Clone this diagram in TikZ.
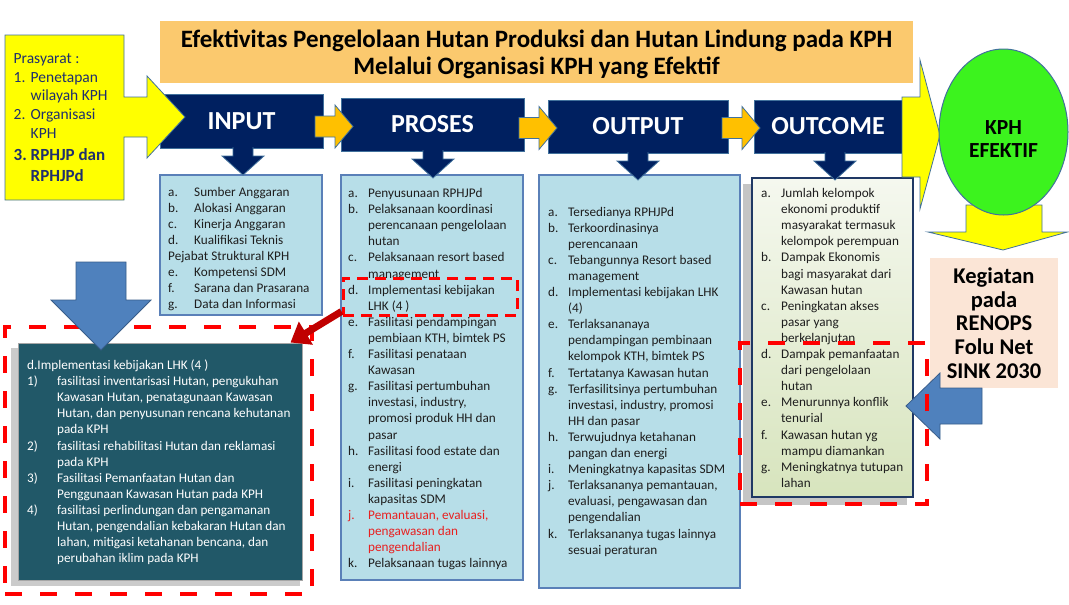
\documentclass[tikz,border=0pt]{standalone}
\usepackage{fontspec}
\setmainfont{Carlito}
\usetikzlibrary{arrows.meta,shapes.geometric}

\definecolor{navy}{HTML}{002060}
\definecolor{hdrline}{HTML}{41719C}
\definecolor{titlefill}{HTML}{FBC96E}
\definecolor{lstfill}{HTML}{B7DEE8}
\definecolor{lstline}{HTML}{5A80B8}
\definecolor{orng}{HTML}{FFC000}
\definecolor{yel}{HTML}{FFFF00}
\definecolor{effgreen}{HTML}{3CF31E}
\definecolor{peach}{HTML}{FBE5D6}
\definecolor{lhkfill}{HTML}{215868}
\definecolor{bluearr}{HTML}{4F81BD}
\definecolor{blueline}{HTML}{385D8A}
\definecolor{darkred}{HTML}{C00000}
\definecolor{octop}{HTML}{F5F8EF}
\definecolor{ocbot}{HTML}{D7E4BD}
\definecolor{ocline}{HTML}{1F3864}
\definecolor{pretext}{HTML}{1F2F6E}
\definecolor{txtdark}{HTML}{1E1E1E}
\definecolor{jred}{HTML}{E82020}

\begin{document}
\begin{tikzpicture}[x=1pt, y=-1pt,
  hdr/.style={draw=hdrline, line width=0.8pt, fill=navy, text=white,
    font=\fontsize{26}{30}\selectfont\bfseries, inner sep=0pt},
  lstbox/.style={draw=lstline, line width=1.5pt, fill=lstfill, inner sep=0pt},
  lsttxt/.style={anchor=base west, inner sep=0pt, text=txtdark,
    font=\fontsize{13.2}{16.1}\selectfont},
  blockarr/.style={draw=hdrline, line width=0.8pt, line join=miter},
  bluearrow/.style={draw=blueline, fill=bluearr, line width=0.8pt},
  reddash/.style={draw=red, line width=4pt, dash pattern=on 17pt off 18pt,
    inner sep=0pt},
  bigtxt/.style={font=\fontsize{22.5}{23.8}\selectfont\bfseries, align=center}]

% background
\fill[white] (0,0) rectangle (1069,605);
\useasboundingbox (0,0) rectangle (1069,605);

% title
\node[fill=titlefill, minimum width=753pt, minimum height=62pt, inner sep=0pt]
  (title) at (536.5,52) {};
\node[font=\fontsize{25}{27}\selectfont\bfseries, align=center] (titleTxt)
  at ([yshift=-2pt]title.center)
  {Efektivitas Pengelolaan Hutan Produksi dan Hutan Lindung pada KPH\\
   Melalui Organisasi KPH yang Efektif};

% list boxes
\node[lstbox, minimum width=162pt, minimum height=140pt] (lstIn) at (241,245) {};
\node[lstbox, minimum width=182pt, minimum height=405pt] (lstPr) at (432,377.5) {};
\node[lstbox, minimum width=201pt, minimum height=413pt] (lstOut) at (639.5,381.5) {};
\fill[black!45, opacity=0.5] (743,184) rectangle (907,505);
\node[draw=ocline, line width=2pt, top color=octop, bottom color=ocbot,
  minimum width=161pt, minimum height=319pt, inner sep=0pt] (lstOc) at (832.5,337.5) {};

% headers
\node[hdr, minimum width=163pt, minimum height=54pt] (hdrIn) at (241.5,121) {INPUT};
\node[hdr, minimum width=183pt, minimum height=53pt] (hdrPr) at (432.5,124.5) {PROSES};
\node[hdr, minimum width=180pt, minimum height=53pt] (hdrOut) at (638,126.5) {OUTPUT};
\node[hdr, minimum width=148pt, minimum height=53pt] (hdrOc) at (828,126.5) {OUTCOME};

% down arrows under headers
\foreach \x/\t in {243/148, 433/151, 638/153, 835/153}
  \filldraw[blockarr, fill=navy] (\x-10,\t-1) -- (\x-10,\t+8) -- (\x-21,\t+8)
    -- (\x,\t+27) -- (\x+21,\t+8) -- (\x+10,\t+8) -- (\x+10,\t-1);

% orange arrows between headers
\foreach \x/\y in {315/126.5, 519/128, 722/128}
  \filldraw[blockarr, fill=orng] (\x,\y-10.5) -- (\x+20,\y-10.5) -- (\x+20,\y-21.5)
    -- (\x+38,\y) -- (\x+20,\y+21.5) -- (\x+20,\y+10.5) -- (\x,\y+10.5) -- cycle;

% prasyarat
\filldraw[blockarr, fill=yel] (5,35) -- (124,35) -- (124,97) -- (147,97) -- (147,76)
  -- (185,117) -- (147,158) -- (147,137) -- (124,137) -- (124,200) -- (5,200) -- cycle;
\node[anchor=base west, inner sep=0pt, text=pretext, font=\fontsize{15.5}{19}\selectfont]
  (preTxt) at (13.5,63)
  {\begin{tabular}[t]{@{}p{17pt}@{}l@{}}
   \multicolumn{2}{@{}l@{}}{Prasyarat :}\\
   1. & Penetapan\\
      & wilayah KPH\\
   2. & Organisasi\\
      & KPH\\[2pt]
   \fontsize{17}{19}\selectfont\bfseries 3. & \fontsize{17}{19}\selectfont\bfseries RPHJP dan\\[3pt]
      & \fontsize{17}{19}\selectfont\bfseries RPHJPd
   \end{tabular}};

% KPH efektif
\filldraw[blockarr, fill=yel] (902,97) -- (920,97) -- (920,60) -- (940,135) -- (920,209)
  -- (920,177) -- (902,177) -- cycle;
\filldraw[blockarr, fill=yel] (966,205) -- (1042,205) -- (1042,232) -- (1067.5,232)
  -- (1003,250) -- (928,232) -- (966,232) -- cycle;
\node[ellipse, draw=hdrline, line width=1pt, fill=effgreen, minimum width=129pt,
  minimum height=166pt, inner sep=0pt] (eff) at (1003.5,132) {};
\node[font=\fontsize{21.5}{23}\selectfont\bfseries, align=center] (effLbl)
  at ([yshift=-7pt]eff.center) {KPH\\EFEKTIF};
\node[fill=peach, minimum width=128pt, minimum height=130pt, inner sep=0pt, bigtxt]
  (renops) at (994,323) {Kegiatan\\pada\\RENOPS\\Folu Net\\SINK 2030};
\filldraw[bluearrow] (906,406) -- (940,373) -- (940,388) -- (982,388) -- (982,424)
  -- (940,424) -- (940,439) -- cycle;

% list texts
\node[lsttxt] (txtIn) at (168,196)
  {\begin{tabular}[t]{@{}p{26pt}@{}l@{}}
   a. & Sumber Anggaran\\
   b. & Alokasi Anggaran\\
   c. & Kinerja Anggaran\\
   d. & Kualifikasi Teknis\\
   \multicolumn{2}{@{}l@{}}{Pejabat Struktural KPH}\\
   e. & Kompetensi SDM\\
   f. & Sarana dan Prasarana\\
   g. & Data dan Informasi
   \end{tabular}};
\node[lsttxt] (txtPr) at (348,197.5)
  {\begin{tabular}[t]{@{}p{20pt}@{}l@{}}
   a. & Penyusunaan RPHJPd\\
   b. & Pelaksanaan koordinasi\\
      & perencanaan pengelolaan\\
      & hutan\\
   c. & Pelaksanaan resort based\\
      & management\\
   d. & Implementasi kebijakan\\
      & LHK (4 )\\
   e. & Fasilitasi pendampingan\\
      & pembiaan KTH, bimtek PS\\
   f. & Fasilitasi penataan\\
      & Kawasan\\
   g. & Fasilitasi pertumbuhan\\
      & investasi, industry,\\
      & promosi produk HH dan\\
      & pasar\\
   h. & Fasilitasi food estate dan\\
      & energi\\
   i. & Fasilitasi peningkatan\\
      & kapasitas SDM\\
   \textcolor{jred}{j.} & \textcolor{jred}{Pemantauan, evaluasi,}\\
      & \textcolor{jred}{pengawasan dan}\\
      & \textcolor{jred}{pengendalian}\\
   k. & Pelaksanaan tugas lainnya
   \end{tabular}};
\node[lsttxt] (txtOut) at (548,216)
  {\begin{tabular}[t]{@{}p{20pt}@{}l@{}}
   a. & Tersedianya RPHJPd\\
   b. & Terkoordinasinya\\
      & perencanaan\\
   c. & Tebangunnya Resort based\\
      & management\\
   d. & Implementasi kebijakan LHK\\
      & (4)\\
   e. & Terlaksananaya\\
      & pendampingan pembinaan\\
      & kelompok KTH, bimtek PS\\
   f. & Tertatanya Kawasan hutan\\
   g. & Terfasilitsinya pertumbuhan\\
      & investasi, industry, promosi\\
      & HH dan pasar\\
   h. & Terwujudnya ketahanan\\
      & pangan dan energi\\
   i. & Meningkatnya kapasitas SDM\\
   j. & Terlaksananya pemantauan,\\
      & evaluasi, pengawasan dan\\
      & pengendalian\\
   k. & Terlaksananya tugas lainnya\\
      & sesuai peraturan
   \end{tabular}};
\node[lsttxt] (txtOc) at (761,197.5)
  {\begin{tabular}[t]{@{}p{20pt}@{}l@{}}
   a. & Jumlah kelompok\\
      & ekonomi produktif\\
      & masyarakat termasuk\\
      & kelompok perempuan\\
   b. & Dampak Ekonomis\\
      & bagi masyarakat dari\\
      & Kawasan hutan\\
   c. & Peningkatan akses\\
      & pasar yang\\
      & berkelanjutan\\
   d. & Dampak pemanfaatan\\
      & dari pengelolaan\\
      & hutan\\
   e. & Menurunnya konflik\\
      & tenurial\\
   f. & Kawasan hutan yg\\
      & mampu diamankan\\
   g. & Meningkatnya tutupan\\
      & lahan
   \end{tabular}};

% implementasi LHK detail
\fill[black!40, opacity=0.5] (11,348) rectangle (300,586);
\node[draw=black!35, line width=1pt, fill=lhkfill, minimum width=284pt,
  minimum height=237pt, inner sep=0pt] (lhk) at (160,461.5) {};
\node[lsttxt, text=white] (txtLhk) at (27,369.5)
  {\begin{tabular}[t]{@{}p{30pt}@{}l@{}}
   \multicolumn{2}{@{}l@{}}{d.Implementasi kebijakan LHK (4 )}\\
   1) & fasilitasi inventarisasi Hutan, pengukuhan\\
      & Kawasan Hutan, penatagunaan Kawasan\\
      & Hutan, dan penyusunan rencana kehutanan\\
      & pada KPH\\
   2) & fasilitasi rehabilitasi Hutan dan reklamasi\\
      & pada KPH\\
   3) & Fasilitasi Pemanfaatan Hutan dan\\
      & Penggunaan Kawasan Hutan pada KPH\\
   4) & fasilitasi perlindungan dan pengamanan\\
      & Hutan, pengendalian kebakaran Hutan dan\\
      & lahan, mitigasi ketahanan bencana, dan\\
      & perubahan iklim pada KPH
   \end{tabular}};

% red dashed frames
\node[reddash, minimum width=307pt, minimum height=267pt] (lhkFrame) at (158.5,460.5) {};
\node[reddash, minimum width=187pt, minimum height=161pt] (ocFrame) at (833.5,423.5) {};
\node[reddash, line width=3pt, dash pattern=on 11pt off 7pt, minimum width=174pt,
  minimum height=37pt] (hlD) at (430,296.5) {};

% connectors
\draw[-{Triangle[length=18pt, width=26pt]}, line width=7pt, darkred]
  ([yshift=5pt]hlD.south west) -- ([xshift=-12pt]lhk.north east);
\filldraw[bluearrow] (76,262) -- (126,262) -- (126,300) -- (151,300) -- (101,350)
  -- (51,300) -- (76,300) -- cycle;
\end{tikzpicture}
\end{document}
